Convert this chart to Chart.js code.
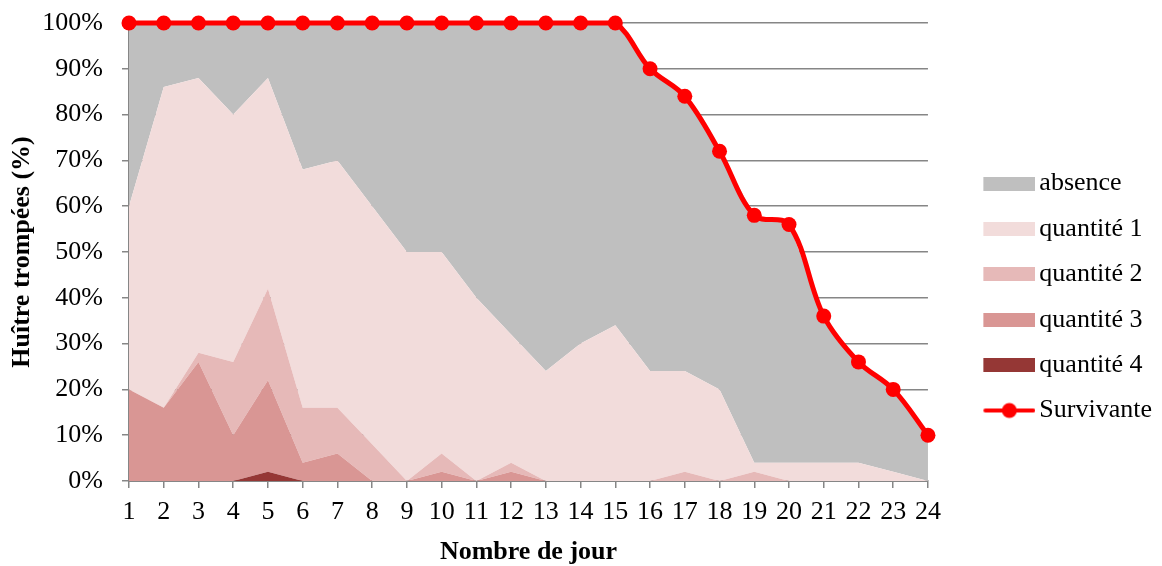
<!DOCTYPE html>
<html>
<head>
<meta charset="utf-8">
<script src="https://cdn.jsdelivr.net/npm/chart.js@4"></script>
<style>
  html, body { margin: 0; padding: 0; background: #fff; }
  #wrap { width: 1162px; height: 566px; }
</style>
</head>
<body>
<div id="wrap"><canvas id="myChart"></canvas></div>
<script>
let days = ['1','2','3','4','5','6','7','8','9','10','11','12','13','14','15','16','17','18','19','20','21','22','23','24'];

let absence  = [40, 14, 12, 20, 12, 32, 30, 40, 50, 50, 60, 68, 76, 70, 66, 66, 60, 52, 54, 52, 32, 22, 18, 10];
let quant1   = [40, 70, 60, 54, 46, 52, 54, 52, 50, 44, 40, 28, 24, 30, 34, 24, 22, 20, 2, 4, 4, 4, 2, 0];
let quant2   = [0, 0, 2, 16, 20, 12, 10, 8, 0, 4, 0, 2, 0, 0, 0, 0, 2, 0, 2, 0, 0, 0, 0, 0];
let quant3   = [20, 16, 26, 10, 20, 4, 6, 0, 0, 2, 0, 2, 0, 0, 0, 0, 0, 0, 0, 0, 0, 0, 0, 0];
let quant4   = [0, 0, 0, 0, 2, 0, 0, 0, 0, 0, 0, 0, 0, 0, 0, 0, 0, 0, 0, 0, 0, 0, 0, 0];
let survie   = [100, 100, 100, 100, 100, 100, 100, 100, 100, 100, 100, 100, 100, 100, 100, 90, 84, 72, 58, 56, 36, 26, 20, 10];

let yTicks = [0, 10, 20, 30, 40, 50, 60, 70, 80, 90, 100];

// legend order: absence, q1, q2, q3, q4, Survivante (dataset index -> rank)
let legendRank = [4, 3, 2, 1, 0, 5];

let font = "'Liberation Serif', 'Times New Roman', serif";
let gray = '#868686';

// little canvases used as legend symbols
function boxSymbol(color) {
    let c = document.createElement('canvas');
    c.width = 97; c.height = 14;
    let g = c.getContext('2d');
    g.fillStyle = color;
    g.fillRect(45, 0, 52, 14);
    return c;
}
function lineSymbol(color) {
    let c = document.createElement('canvas');
    c.width = 97; c.height = 18;
    let g = c.getContext('2d');
    g.strokeStyle = color;
    g.lineWidth = 4;
    g.lineCap = 'round';
    g.beginPath();
    g.moveTo(47, 9); g.lineTo(95, 9);
    g.stroke();
    g.fillStyle = color;
    g.beginPath();
    g.arc(71, 9, 7.5, 0, Math.PI * 2);
    g.fill();
    return c;
}

function area(label, data, color, fill) {
    return {
        label: label,
        data: data,
        backgroundColor: color,
        borderColor: color,
        borderWidth: 0,
        pointRadius: 0,
        fill: fill,
        tension: 0,
        stack: 'parts',
        symbol: boxSymbol(color)
    };
}

// push the legend column down a little, like the original
let legendShift = {
    id: 'legendShift',
    afterLayout(chart) {
        chart.legend.top += 13.5;
        chart.legend.bottom += 13.5;
    }
};

let ctx = document.getElementById('myChart').getContext('2d');

let myChart = new Chart(ctx, {
    type: 'line',
    data: {
        labels: days,
        datasets: [
            area('quantité 4', quant4, '#953735', 'origin'),
            area('quantité 3', quant3, '#d99694', '-1'),
            area('quantité 2', quant2, '#e6b9b8', '-1'),
            area('quantité 1', quant1, '#f2dcdb', '-1'),
            area('absence', absence, '#bfbfbf', '-1'),
            {
                label: 'Survivante',
                data: survie,
                borderColor: '#ff0000',
                backgroundColor: '#ff0000',
                borderWidth: 5,
                pointRadius: 7.5,
                pointHoverRadius: 7.5,
                pointBorderWidth: 0,
                fill: false,
                tension: 0.35,
                stack: 'surv',
                order: -1,
                clip: false,
                symbol: lineSymbol('#ff0000')
            }
        ]
    },
    plugins: [legendShift],
    options: {
        responsive: true,
        maintainAspectRatio: false,
        animation: false,
        layout: { padding: { top: 1, right: 0, bottom: 0, left: 0 } },
        plugins: {
            tooltip: { enabled: false },
            legend: {
                position: 'right',
                labels: {
                    font: { family: font, size: 26 },
                    color: '#000',
                    usePointStyle: true,
                    pointStyleWidth: 79,
                    padding: 19.4,
                    sort: (a, b) => legendRank[a.datasetIndex] - legendRank[b.datasetIndex],
                    generateLabels: function (chart) {
                        let items = Chart.defaults.plugins.legend.labels.generateLabels(chart);
                        items.forEach(it => {
                            it.pointStyle = chart.data.datasets[it.datasetIndex].symbol;
                        });
                        return items;
                    }
                }
            }
        },
        scales: {
            x: {
                stacked: false,
                offset: false,
                afterFit: axis => { axis.height = 85; },
                grid: { display: true, drawOnChartArea: false, drawTicks: true, tickLength: 7, color: gray, lineWidth: 1.5 },
                border: { display: true, color: gray, width: 2 },
                ticks: { color: '#000', font: { family: font, size: 26 }, padding: 9, maxRotation: 0, autoSkip: false },
                title: {
                    display: true,
                    text: 'Nombre de jour',
                    color: '#000',
                    font: { family: font, size: 26, weight: 'bold' },
                    padding: { top: 4, bottom: -2 }
                }
            },
            y: {
                stacked: true,
                min: 0,
                max: 100,
                afterFit: axis => {
                    axis.width = 129;
                    axis.paddingTop = 23;
                    axis.paddingBottom = 16;
                },
                afterBuildTicks: axis => { axis.ticks = yTicks.map(v => ({ value: v })); },
                grid: { color: gray, lineWidth: 1.5, tickLength: 7 },
                border: { display: true, color: gray, width: 2 },
                ticks: {
                    color: '#000',
                    font: { family: font, size: 26 },
                    padding: 19,
                    callback: v => v + '%'
                },
                title: {
                    display: true,
                    text: 'Huître trompées (%)',
                    color: '#000',
                    font: { family: font, size: 26, weight: 'bold' },
                    padding: { top: 7, bottom: 4 }
                }
            }
        }
    }
});
</script>
</body>
</html>
